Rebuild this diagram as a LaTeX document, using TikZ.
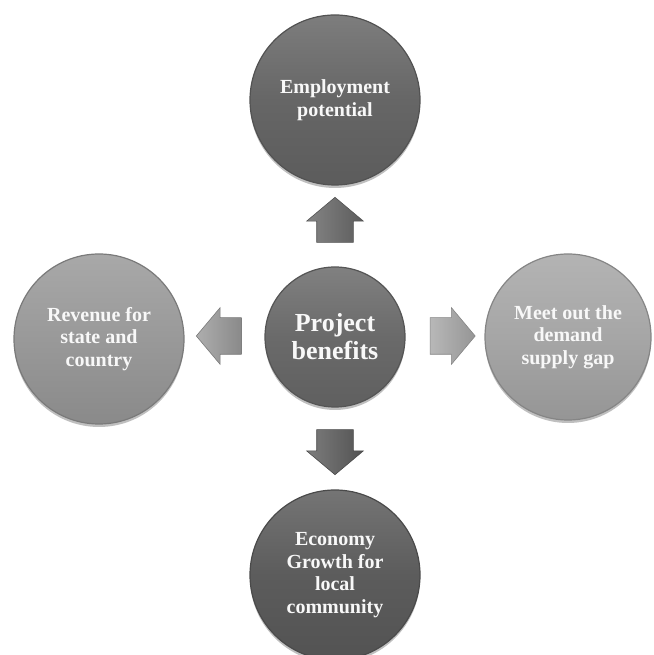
\documentclass[tikz,border=0pt]{standalone}
\usepackage{fontspec}
\setmainfont{Liberation Serif}
\usetikzlibrary{shapes.arrows,shadows}
\definecolor{cTop}{HTML}{666666}
\definecolor{cMid}{HTML}{6A6A6A}
\definecolor{cBot}{HTML}{5C5C5C}
\definecolor{cLeft}{HTML}{999999}
\definecolor{cRight}{HTML}{A6A6A6}
\definecolor{txt}{HTML}{F8F8F8}
\tikzset{
  bubble/.style={circle, minimum size=170pt, inner sep=0pt, align=center,
    text=txt, font=\bfseries\fontsize{20}{22.5}\selectfont,
    draw=#1!80!black, line width=1.2pt,
    top color=#1!85!white, bottom color=#1!90!black, middle color=#1,
    drop shadow={shadow xshift=0pt, shadow yshift=-3pt, opacity=0.25, fill=black}},
  hub/.style={bubble=#1, minimum size=140pt, font=\bfseries\fontsize{26}{28}\selectfont},
  blockarrow/.style={single arrow, draw=#1!80!black, line width=0.6pt,
    left color=#1!80!white, right color=#1!90!black,
    minimum height=45pt, inner xsep=0pt, inner ysep=18pt,
    single arrow head extend=10pt, single arrow tip angle=100}
}
\begin{document}
\begin{tikzpicture}[x=1pt,y=1pt]
\useasboundingbox (0,0) rectangle (653,655);
\node[hub=cMid] (center) at (335,318) {Project\\benefits};
\node[bubble=cTop] (top) at (335,555) {Employment\\potential};
\node[bubble=cBot] (bot) at (335,80) {Economy\\Growth for\\local\\community};
\node[bubble=cLeft] (left) at (99,316) {Revenue for\\state and\\country};
\node[bubble=cRight, minimum size=166pt] (right) at (568,318) {Meet out the\\demand\\supply gap};
\node[blockarrow=cTop, rotate=90] (aup) at (335,427.5) {};
\node[blockarrow=cBot, rotate=270] (adown) at (335,210.5) {};
\node[blockarrow=cLeft, rotate=180] (aleft) at (226.5,319) {};
\node[blockarrow=cRight] (aright) at (445,319) {};
\end{tikzpicture}
\end{document}
